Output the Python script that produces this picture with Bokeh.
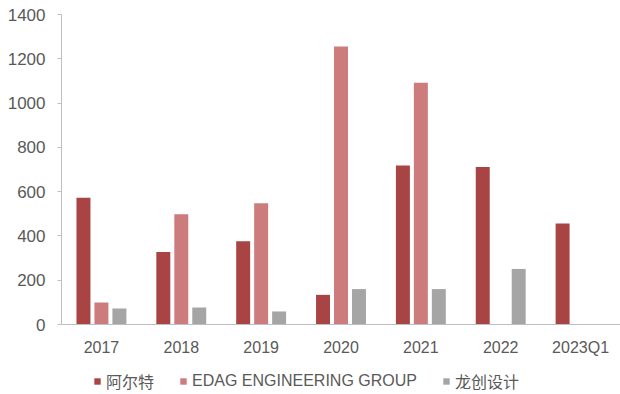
from bokeh.plotting import figure
from bokeh.models import FactorRange, Range1d, FixedTicker, Legend, LegendItem, ColumnDataSource
from bokeh.transform import dodge
from bokeh.embed import file_html
from bokeh.resources import INLINE

nan = float("nan")
categories = ["2017", "2018", "2019", "2020", "2021", "2022", "2023Q1"]
alt = [573, 327, 376, 134, 718, 711, 456]
edag = [100, 498, 548, 1256, 1092, nan, nan]
longchuang = [72, 77, 59, 160, 160, 251, nan]
series_names = ["阿尔特", "EDAG ENGINEERING GROUP", "龙创设计"]
y_ticks = [0, 200, 400, 600, 800, 1000, 1200, 1400]

src = ColumnDataSource(dict(cat=categories, alt=alt, edag=edag, lc=longchuang))

TEXT = "#595959"
FONT = "'Liberation Sans', Arial, sans-serif"
LFONT = "'Liberation Sans', 'Noto Sans CJK SC', sans-serif"

# frame spans 14..394 px; 0 sits at 324 px, 1400 at 14 px
p = figure(x_range=FactorRange(*categories), y_range=Range1d(-316, 1400),
           width=620, height=394, output_backend="svg", toolbar_location=None,
           min_border_left=61, min_border_right=0, min_border_top=14, min_border_bottom=0)
p.outline_line_color = None
p.grid.visible = False

bw = 0.175
off = 0.225
r1 = p.vbar(x=dodge("cat", -off, range=p.x_range), top="alt", width=bw, source=src,
            fill_color="#A84444", line_color=None)
r2 = p.vbar(x=dodge("cat", 0, range=p.x_range), top="edag", width=bw, source=src,
            fill_color="#CC7C7C", line_color=None)
r3 = p.vbar(x=dodge("cat", off, range=p.x_range), top="lc", width=bw, source=src,
            fill_color="#A5A5A5", line_color=None)

yax = p.yaxis[0]
yax.ticker = FixedTicker(ticks=y_ticks)
yax.bounds = (0, 1400)
yax.minor_tick_line_color = None
yax.major_tick_out = 4
yax.major_tick_in = 0
yax.major_tick_line_color = "#BFBFBF"
yax.axis_line_color = "#BFBFBF"
yax.major_label_text_font = FONT
yax.major_label_text_font_size = "17px"
yax.major_label_text_color = TEXT
yax.major_label_standoff = 12

xax = p.xaxis[0]
xax.fixed_location = 0
xax.major_tick_line_color = None
xax.minor_tick_line_color = None
xax.axis_line_color = "#BFBFBF"
xax.major_label_text_font = FONT
xax.major_label_text_font_size = "16px"
xax.major_label_text_color = TEXT
xax.major_label_standoff = 8

legend = Legend(items=[LegendItem(label=series_names[0], renderers=[r1]),
                       LegendItem(label=series_names[1], renderers=[r2]),
                       LegendItem(label=series_names[2], renderers=[r3])],
                orientation="horizontal", location=(32, 1), spacing=25,
                glyph_width=8, glyph_height=8, label_standoff=5, padding=0,
                margin=0, label_height=20,
                border_line_color=None, background_fill_alpha=0,
                label_text_font=LFONT, label_text_font_size="16px",
                label_text_color=TEXT)
p.add_layout(legend)

open("out.html", "w").write(file_html(p, INLINE))
